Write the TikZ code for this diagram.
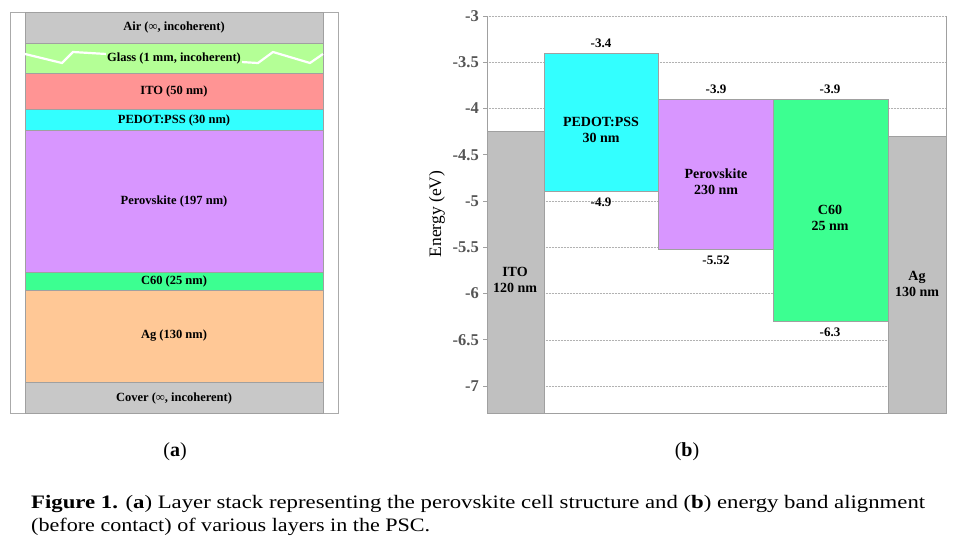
\documentclass[tikz,border=0pt]{standalone}
\usepackage{fontspec}
\setmainfont{Liberation Serif}
\definecolor{airgray}{RGB}{200,200,200}
\definecolor{glassgreen}{RGB}{180,255,150}
\definecolor{itored}{RGB}{255,148,148}
\definecolor{pedotcyan}{RGB}{51,255,255}
\definecolor{perovpurple}{RGB}{216,150,255}
\definecolor{csixty}{RGB}{60,255,145}
\definecolor{agorange}{RGB}{255,200,150}
\definecolor{bargray}{RGB}{192,192,192}
\definecolor{edgegray}{RGB}{160,160,160}
\definecolor{ticktext}{RGB}{85,85,85}
\begin{document}
\begin{tikzpicture}[x=1pt,y=-1pt,
  declare function={ey(\e)=16+(-3-\e)*92.5;},
  layer/.style={draw=edgegray,line width=0.8pt},
  laytext/.style={font=\fontsize{12.5}{14}\selectfont\bfseries,inner sep=1pt},
  bar/.style={draw=edgegray,line width=0.8pt},
  bartext/.style={font=\fontsize{14}{16}\selectfont\bfseries,align=center,inner sep=0pt},
  valtext/.style={font=\fontsize{13}{15}\selectfont\bfseries,inner sep=0pt},
  ticklab/.style={font=\fontsize{16.5}{18}\selectfont\bfseries,text=ticktext,anchor=east,inner sep=0pt},
  grid/.style={draw=gray!60,densely dotted,line width=0.5pt},
  panel/.style={font=\fontsize{20}{24}\selectfont,inner sep=0pt},
  captext/.style={font=\fontsize{19}{23}\selectfont,anchor=base west,inner sep=0pt}]
\useasboundingbox (0,0) rectangle (961,555);
\fill[white] (0,0) rectangle (961,555);

% ---------- panel (a) ----------
\draw[draw=airgray!85!black,line width=0.8pt] (10,12) rectangle (338,413);
\filldraw[layer,fill=airgray] (25,12) rectangle (323,43);
\filldraw[layer,fill=glassgreen] (25,43) rectangle (323,73);
\filldraw[layer,fill=itored] (25,73) rectangle (323,109);
\filldraw[layer,fill=pedotcyan] (25,109) rectangle (323,130);
\filldraw[layer,fill=perovpurple] (25,130) rectangle (323,272);
\filldraw[layer,fill=csixty] (25,272) rectangle (323,290);
\filldraw[layer,fill=agorange] (25,290) rectangle (323,382);
\filldraw[layer,fill=airgray] (25,382) rectangle (323,413);
\draw[white,line width=2.2pt,line join=miter]
  (25,54) -- (62,63) -- (73,52) -- (258,63) -- (273,52) -- (310,63) -- (323,54);
\node[laytext] (air) at (174,27) {Air (∞, incoherent)};
\node[laytext,fill=glassgreen] (glass) at (174,58) {Glass (1 mm, incoherent)};
\node[laytext] (ito) at (174,91) {ITO (50 nm)};
\node[laytext] (pedot) at (174,120) {PEDOT:PSS (30 nm)};
\node[laytext] (perov) at (174,201) {Perovskite (197 nm)};
\node[laytext] (c60) at (174,281) {C60 (25 nm)};
\node[laytext] (ag) at (174,336) {Ag (130 nm)};
\node[laytext] (cover) at (174,398) {Cover (∞, incoherent)};
\node[panel] (pa) at (175,452) {(\textbf{a})};

% ---------- panel (b) ----------
\draw[grid] (487,{ey(-3)}) -- (946,{ey(-3)});
\foreach \v in {-3.5,-4,-4.5,-5,-5.5,-6,-6.5,-7}{
  \draw[grid] (487,{ey(\v)}) -- (946,{ey(\v)});
}
\filldraw[bar,fill=bargray] (487,{ey(-4.25)}) rectangle (544,{ey(-7.3)});
\filldraw[bar,fill=pedotcyan] (544,{ey(-3.4)}) rectangle (658,{ey(-4.9)});
\filldraw[bar,fill=perovpurple] (658,{ey(-3.9)}) rectangle (773,{ey(-5.52)});
\filldraw[bar,fill=csixty] (773,{ey(-3.9)}) rectangle (888,{ey(-6.3)});
\filldraw[bar,fill=bargray] (888,{ey(-4.3)}) rectangle (946,{ey(-7.3)});
% axes
\draw[edgegray,line width=0.8pt] (487,{ey(-3)}) -- (487,{ey(-7.3)}) -- (946,{ey(-7.3)}) -- (946,{ey(-3)});
\foreach \v/\t in {-3/-3,-3.5/-3.5,-4/-4,-4.5/-4.5,-5/-5,-5.5/-5.5,-6/-6,-6.5/-6.5,-7/-7}{
  \draw[edgegray,line width=0.8pt] (483,{ey(\v)}) -- (487,{ey(\v)});
  \node[ticklab] at (479,{ey(\v)}) {\t};
}
\node[rotate=90,font=\fontsize{17.5}{19}\selectfont,inner sep=0pt] (ylab) at (437,214) {Energy (eV)};
% bar labels
\node[bartext] (bito) at (515,280) {ITO\\120 nm};
\node[bartext] (bpedot) at (601,130) {PEDOT:PSS\\30 nm};
\node[bartext] (bperov) at (716,182) {Perovskite\\230 nm};
\node[bartext] (bc60) at (830,218) {C60\\25 nm};
\node[bartext] (bag) at (917,284) {Ag\\130 nm};
% values
\node[valtext] (v1) at (601,43) {-3.4};
\node[valtext] (v2) at (601,202) {-4.9};
\node[valtext] (v3) at (716,89) {-3.9};
\node[valtext] (v4) at (830,89) {-3.9};
\node[valtext] (v5) at (716,260) {-5.52};
\node[valtext] (v6) at (830,332) {-6.3};
\node[panel] (pb) at (687,452) {(\textbf{b})};

% ---------- caption ----------
\node[captext] (cap1) at (31,508) {\resizebox{894pt}{\height}{\textbf{Figure 1.} (\textbf{a}) Layer stack representing the perovskite cell structure and (\textbf{b}) energy band alignment}};
\node[captext] (cap2) at (31,531) {\resizebox{399pt}{\height}{(before contact) of various layers in the PSC.}};
\end{tikzpicture}
\end{document}
